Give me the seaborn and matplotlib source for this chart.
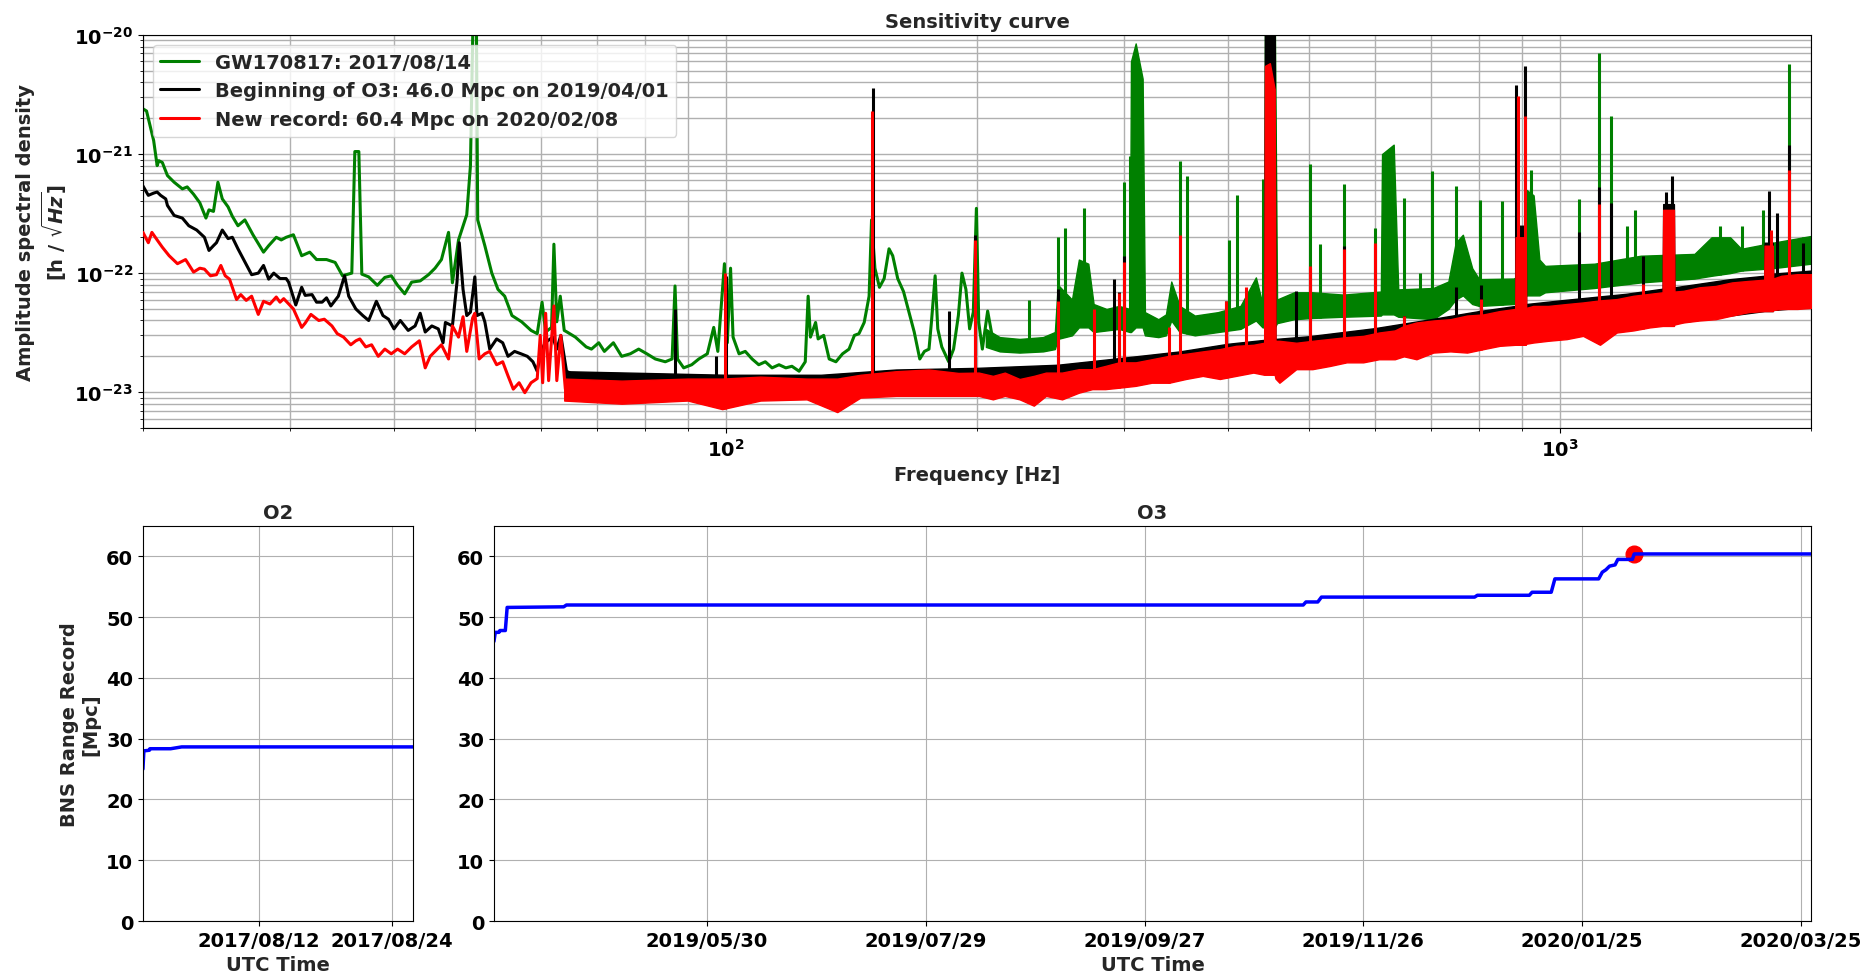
# Virgo sensitivity curves and BNS range record

import numpy as np
import pandas as pd
import matplotlib
matplotlib.use("Agg")
import matplotlib.pyplot as plt
import matplotlib.dates as mdates
import seaborn as sns

# ---- spectra: traced line points (Hz, strain/sqrt(Hz)) ----
GREEN_LINE = [
    (20.0, 2.4e-21), (20.2, 2.3e-21), (20.6, 1.3e-21), (20.8, 8.0e-22), (20.9, 8.8e-22),
    (21.1, 8.5e-22), (21.4, 6.6e-22), (21.8, 5.8e-22), (22.3, 5.1e-22), (22.6, 5.3e-22),
    (23.0, 4.6e-22), (23.4, 3.9e-22), (23.8, 2.9e-22), (24.0, 3.4e-22), (24.3, 3.3e-22),
    (24.6, 5.8e-22), (24.9, 4.2e-22), (25.3, 3.6e-22), (25.6, 3.0e-22), (26.0, 2.5e-22),
    (26.5, 2.8e-22), (27.1, 2.1e-22), (27.9, 1.5e-22), (28.3, 1.7e-22), (28.9, 2.0e-22),
    (29.3, 1.9e-22), (29.7, 2.0e-22), (30.3, 2.1e-22), (31.0, 1.4e-22), (31.7, 1.5e-22),
    (32.3, 1.3e-22), (33.2, 1.3e-22), (34.0, 1.23e-22), (34.7, 9.5e-23), (35.6, 1.0e-22),
    (35.9, 1.05e-21), (36.3, 1.05e-21), (36.6, 9.8e-23), (37.3, 9.3e-23), (38.2, 7.9e-23),
    (39.0, 9.2e-23), (39.7, 9.5e-23), (40.4, 7.9e-23), (41.2, 6.7e-23), (42.0, 8.4e-23),
    (43.0, 8.6e-23), (44.0, 9.7e-23), (44.8, 1.1e-22), (45.6, 1.3e-22), (46.5, 2.2e-22),
    (47.0, 8.3e-23), (47.8, 1.9e-22), (48.9, 3.1e-22), (49.4, 8.0e-22), (49.8, 2e-20),
    (50.2, 2e-20), (50.4, 2.8e-22), (51.4, 1.7e-22), (52.4, 1.0e-22), (53.3, 7.3e-23),
    (54.3, 6.4e-23), (55.4, 4.4e-23), (56.9, 3.9e-23), (58.4, 3.3e-23), (59.4, 3.1e-23),
    (60.2, 5.7e-23), (60.8, 3.2e-23), (61.8, 3.5e-23), (62.2, 1.75e-22), (62.7, 3.9e-23),
    (63.3, 6.4e-23), (64.0, 3.3e-23), (64.5, 3.2e-23), (66.0, 2.9e-23), (68.0, 2.4e-23),
    (69.0, 2.3e-23), (70.4, 2.6e-23), (71.5, 2.2e-23), (73.3, 2.6e-23), (75.0, 2.0e-23),
    (76.8, 2.1e-23), (78.6, 2.3e-23), (80.4, 2.1e-23), (82.3, 1.9e-23), (84.6, 1.8e-23),
    (86.2, 1.9e-23), (86.9, 7.8e-23), (87.5, 1.9e-23), (89.0, 1.6e-23), (91.0, 1.7e-23),
    (92.8, 1.9e-23), (95.0, 2.1e-23), (96.7, 3.5e-23), (97.8, 2.2e-23), (99.6, 1.2e-22),
    (100.4, 2.6e-23), (101.3, 1.1e-22), (102.0, 2.9e-23), (103.7, 2.1e-23), (105.5, 2.2e-23),
    (107.5, 1.9e-23), (109.5, 1.7e-23), (111.5, 1.8e-23), (113.6, 1.6e-23), (115.8, 1.7e-23),
    (118.0, 1.6e-23), (120.0, 1.65e-23), (122.4, 1.5e-23), (124.5, 1.8e-23), (125.5, 6.4e-23),
    (126.3, 2.9e-23), (128.1, 3.85e-23), (129.0, 2.8e-23), (131.0, 3.0e-23), (133.0, 1.9e-23),
    (135.5, 1.8e-23), (138.0, 2.1e-23), (140.5, 2.3e-23), (142.6, 3.0e-23), (144.4, 3.1e-23),
    (146.5, 3.85e-23), (148.5, 6.4e-23), (149.5, 2.8e-22), (150.9, 1.1e-22), (152.8, 7.6e-23),
    (154.8, 9.0e-23), (156.9, 1.6e-22), (158.5, 1.4e-22), (160.7, 9.0e-23), (163.3, 7.0e-23),
    (165.8, 4.7e-23), (168.2, 3.2e-23), (170.8, 1.9e-23), (173.0, 2.2e-23), (175.2, 2.3e-23),
    (176.4, 3.9e-23), (178.2, 9.5e-23), (179.5, 3.4e-23), (181.5, 2.4e-23), (185.0, 1.8e-23),
    (187.5, 2.3e-23), (190.0, 4.4e-23), (191.9, 1.0e-22), (194.0, 7.3e-23), (196.0, 3.4e-23),
    (198.0, 4.7e-23), (199.7, 3.5e-22), (201.0, 3.85e-23), (203.0, 2.3e-23), (206.0, 4.8e-23),
    (208.5, 3.0e-23), (213.0, 2.3e-23),
]

BLACK_LINE = [
    (20.0, 5.4e-22), (20.3, 4.5e-22), (20.6, 4.7e-22), (20.8, 4.8e-22), (21.0, 4.5e-22),
    (21.3, 4.2e-22), (21.4, 3.7e-22), (21.8, 3.05e-22), (22.3, 2.9e-22), (22.7, 2.5e-22),
    (23.2, 2.3e-22), (23.7, 2.0e-22), (24.0, 1.55e-22), (24.3, 1.7e-22), (24.5, 1.8e-22),
    (24.9, 2.3e-22), (25.3, 1.95e-22), (25.6, 2.0e-22), (26.0, 1.6e-22), (27.0, 9.7e-23),
    (27.5, 1.0e-22), (27.9, 1.16e-22), (28.3, 8.9e-23), (28.7, 1.0e-22), (29.2, 9.0e-23),
    (29.7, 9.0e-23), (29.9, 8.4e-23), (30.5, 5.4e-23), (31.0, 7.6e-23), (31.3, 6.5e-23),
    (31.9, 6.6e-23), (32.3, 5.7e-23), (32.8, 5.7e-23), (33.2, 6.2e-23), (33.6, 5.3e-23),
    (34.3, 6.4e-23), (34.9, 9.5e-23), (35.3, 6.4e-23), (36.0, 5.0e-23), (36.7, 4.4e-23),
    (37.3, 4.0e-23), (38.1, 5.8e-23), (38.8, 4.4e-23), (39.4, 4.1e-23), (40.0, 3.4e-23),
    (40.7, 4.0e-23), (41.6, 3.3e-23), (42.4, 3.6e-23), (43.0, 4.6e-23), (43.6, 3.2e-23),
    (44.4, 3.6e-23), (45.2, 3.4e-23), (45.8, 2.6e-23), (46.1, 3.85e-23), (47.0, 3.6e-23),
    (47.6, 8.4e-23), (47.9, 1.8e-22), (48.4, 7.3e-23), (48.9, 4.4e-23), (49.4, 4.7e-23),
    (50.0, 9.3e-23), (50.3, 4.4e-23), (51.0, 4.6e-23), (51.4, 3.9e-23), (52.1, 2.3e-23),
    (53.1, 2.8e-23), (54.0, 2.6e-23), (54.8, 2.0e-23), (55.8, 2.2e-23), (56.8, 2.1e-23),
    (57.8, 2.0e-23), (58.7, 1.8e-23), (59.4, 1.5e-23), (59.9, 2.1e-23), (60.7, 2.6e-23),
    (62.0, 2.9e-23), (62.7, 2.3e-23), (63.4, 3.0e-23), (64.4, 1.5e-23), (65.0, 1.45e-23),
]

RED_LINE = [
    (20.0, 2.2e-22), (20.3, 1.8e-22), (20.5, 2.2e-22), (20.8, 1.9e-22), (21.1, 1.65e-22),
    (21.5, 1.4e-22), (22.0, 1.2e-22), (22.5, 1.3e-22), (23.0, 1.02e-22), (23.4, 1.1e-22),
    (23.7, 1.08e-22), (24.1, 9.5e-23), (24.5, 9.7e-23), (24.8, 1.16e-22), (25.1, 9.5e-23),
    (25.4, 8.9e-23), (25.9, 6.0e-23), (26.2, 6.6e-23), (26.6, 5.9e-23), (27.0, 6.4e-23),
    (27.5, 4.5e-23), (27.9, 5.8e-23), (28.4, 5.5e-23), (28.9, 6.3e-23), (29.2, 5.7e-23),
    (29.5, 6.1e-23), (30.3, 5.0e-23), (31.0, 3.5e-23), (31.3, 3.8e-23), (31.8, 4.5e-23),
    (32.5, 4.0e-23), (33.0, 4.1e-23), (33.7, 3.6e-23), (34.2, 3.1e-23), (34.8, 2.9e-23),
    (35.5, 2.5e-23), (36.0, 2.7e-23), (36.4, 2.8e-23), (37.0, 2.4e-23), (37.6, 2.5e-23),
    (38.3, 2.0e-23), (39.0, 2.3e-23), (39.7, 2.1e-23), (40.4, 2.3e-23), (41.2, 2.1e-23),
    (42.0, 2.4e-23), (42.9, 2.7e-23), (43.6, 1.6e-23), (44.2, 2.0e-23), (44.8, 2.2e-23),
    (45.6, 2.5e-23), (46.5, 1.9e-23), (47.0, 3.6e-23), (47.8, 2.9e-23), (48.4, 4.3e-23),
    (48.9, 2.2e-23), (49.7, 4.2e-23), (50.0, 4.6e-23), (50.6, 1.9e-23), (51.4, 2.1e-23),
    (52.1, 2.2e-23), (53.1, 1.7e-23), (54.0, 1.8e-23), (54.8, 1.37e-23), (55.6, 1.06e-23),
    (56.5, 1.2e-23), (57.4, 9.9e-24), (58.4, 1.2e-23), (59.4, 1.3e-23), (59.9, 3.0e-23),
    (60.3, 1.2e-23), (60.8, 4.6e-23), (61.3, 1.25e-23), (62.2, 5.3e-23), (62.7, 1.25e-23),
    (63.4, 3.0e-23), (64.2, 1.06e-23), (65.0, 1.2e-23),
]

# ---- dense noise floor: (Hz, lower edge, upper edge) ----
GREEN_BAND = [
    (205, 2.4e-23, 3.4e-23), (213, 2.2e-23, 2.9e-23), (225, 2.15e-23, 2.8e-23),
    (240, 2.2e-23, 2.9e-23), (248, 2.3e-23, 3.2e-23), (250, 2.8e-23, 8.0e-23),
    (260, 3.0e-23, 6.0e-23), (265, 3.5e-23, 1.3e-22), (272, 3.5e-23, 1.2e-22),
    (276, 3.2e-23, 5.5e-23), (286, 3.3e-23, 5.0e-23), (296, 3.4e-23, 5.3e-23),
    (305, 3.2e-23, 5.0e-23), (306, 3.2e-23, 6.0e-21), (310, 3.5e-23, 8.5e-21),
    (316, 3.5e-23, 4.3e-21), (318, 3.0e-23, 4.7e-23), (330, 2.9e-23, 4.1e-23),
    (337, 3.0e-23, 4.5e-23), (342, 4.0e-23, 8.5e-23), (350, 3.2e-23, 5.3e-23),
    (365, 3.0e-23, 4.4e-23), (389, 3.2e-23, 4.7e-23), (414, 3.4e-23, 5.3e-23),
    (432, 4.0e-23, 9.2e-23), (440, 3.5e-23, 5.5e-23), (442, 3.5e-23, 5.5e-23),
    (443, 3.5e-23, 2e-20), (455, 3.5e-23, 2e-20), (458, 3.8e-23, 6.0e-23),
    (480, 4.1e-23, 6.9e-23), (505, 4.2e-23, 6.9e-23), (550, 4.3e-23, 6.6e-23),
    (610, 4.4e-23, 7.0e-23), (612, 4.5e-23, 1.0e-21), (632, 4.5e-23, 1.2e-21),
    (640, 4.3e-23, 7.3e-23), (705, 4.1e-23, 7.5e-23), (735, 5.0e-23, 8.5e-23),
    (750, 6.0e-23, 1.8e-22), (765, 6.5e-23, 2.1e-22), (785, 5.5e-23, 1.1e-22),
    (800, 5.3e-23, 8.9e-23), (880, 5.5e-23, 9.0e-23), (905, 6.0e-23, 1.0e-22),
    (912, 6.5e-23, 5.0e-22), (930, 6.5e-23, 4.5e-22), (945, 6.5e-23, 1.3e-22),
    (960, 6.9e-23, 1.15e-22), (1100, 7.5e-23, 1.2e-22), (1250, 8.35e-23, 1.4e-22),
    (1450, 9.0e-23, 1.45e-22), (1520, 9.5e-23, 2.0e-22), (1600, 1.0e-22, 2.0e-22),
    (1650, 1.05e-22, 1.6e-22), (1800, 1.1e-22, 1.8e-22), (2000, 1.2e-22, 2.05e-22),
]

BLACK_BAND = [
    (64, 1.1e-23, 1.5e-23), (80, 1.05e-23, 1.45e-23), (100, 1.05e-23, 1.4e-23),
    (130, 1.05e-23, 1.4e-23), (160, 1.1e-23, 1.55e-23), (200, 1.15e-23, 1.6e-23),
    (250, 1.2e-23, 1.7e-23), (300, 1.35e-23, 1.95e-23), (350, 1.45e-23, 2.2e-23),
    (400, 1.55e-23, 2.55e-23), (442, 1.65e-23, 2.75e-23), (443, 1.65e-23, 2e-20),
    (455, 1.65e-23, 2e-20), (456, 1.65e-23, 2.8e-23), (500, 1.75e-23, 2.95e-23),
    (600, 2.0e-23, 3.45e-23), (700, 2.2e-23, 4.1e-23), (800, 2.5e-23, 4.8e-23),
    (884, 2.7e-23, 5.3e-23), (885, 2.7e-23, 2.5e-22), (910, 2.7e-23, 2.5e-22),
    (911, 2.7e-23, 5.5e-23), (1000, 3.0e-23, 5.9e-23), (1200, 3.4e-23, 6.7e-23),
    (1328, 3.7e-23, 7.4e-23), (1330, 3.7e-23, 3.8e-22), (1370, 3.7e-23, 3.8e-22),
    (1372, 3.8e-23, 7.6e-23), (1600, 4.4e-23, 8.9e-23), (1758, 4.8e-23, 9.5e-23),
    (1760, 4.8e-23, 1.8e-22), (1800, 4.8e-23, 1.8e-22), (1802, 4.9e-23, 9.9e-23),
    (2000, 5.2e-23, 1.05e-22),
]

RED_BAND = [
    (64, 8.5e-24, 1.3e-23), (75, 8.0e-24, 1.25e-23), (90, 8.5e-24, 1.3e-23),
    (99, 7.2e-24, 1.3e-23), (110, 8.5e-24, 1.35e-23), (125, 8.7e-24, 1.3e-23),
    (136, 6.8e-24, 1.3e-23), (145, 9.0e-24, 1.4e-23), (160, 9.3e-24, 1.5e-23),
    (175, 9.3e-24, 1.55e-23), (190, 9.3e-24, 1.45e-23), (201, 9.3e-24, 1.46e-23),
    (209, 8.7e-24, 1.37e-23), (216, 9.3e-24, 1.46e-23), (225, 8.7e-24, 1.29e-23),
    (234, 7.7e-24, 1.37e-23), (242, 9.3e-24, 1.46e-23), (253, 8.7e-24, 1.46e-23),
    (265, 9.9e-24, 1.56e-23), (275, 1.06e-23, 1.56e-23), (285, 1.06e-23, 1.66e-23),
    (296, 1.09e-23, 1.78e-23), (310, 1.13e-23, 1.78e-23), (324, 1.2e-23, 1.89e-23),
    (340, 1.2e-23, 2.02e-23), (356, 1.29e-23, 2.1e-23), (373, 1.37e-23, 2.2e-23),
    (391, 1.29e-23, 2.3e-23), (409, 1.37e-23, 2.45e-23), (429, 1.46e-23, 2.5e-23),
    (442, 1.4e-23, 2.6e-23), (443, 1.4e-23, 5.5e-21), (449, 1.4e-23, 5.8e-21),
    (455, 1.4e-23, 3.5e-21), (456, 1.3e-23, 2.7e-23), (461, 1.2e-23, 2.7e-23),
    (483, 1.56e-23, 2.6e-23), (505, 1.56e-23, 2.7e-23), (530, 1.66e-23, 2.8e-23),
    (555, 1.78e-23, 2.9e-23), (581, 1.78e-23, 2.97e-23), (607, 1.89e-23, 3.17e-23),
    (634, 1.89e-23, 3.3e-23), (650, 2.0e-23, 3.6e-23), (673, 1.89e-23, 3.85e-23),
    (705, 2.15e-23, 4.0e-23), (739, 2.2e-23, 4.1e-23), (774, 2.15e-23, 4.4e-23),
    (810, 2.3e-23, 4.5e-23), (847, 2.45e-23, 4.8e-23), (884, 2.5e-23, 5.0e-23),
    (885, 2.5e-23, 2.0e-22), (910, 2.5e-23, 2.0e-22), (911, 2.55e-23, 5.1e-23),
    (929, 2.61e-23, 5.3e-23), (968, 2.7e-23, 5.3e-23), (1019, 2.79e-23, 5.5e-23),
    (1066, 2.97e-23, 5.67e-23), (1117, 2.5e-23, 5.9e-23), (1170, 3.17e-23, 6.05e-23),
    (1225, 3.3e-23, 6.45e-23), (1282, 3.5e-23, 6.7e-23), (1328, 3.6e-23, 6.9e-23),
    (1330, 3.6e-23, 3.4e-22), (1370, 3.6e-23, 3.4e-22), (1372, 3.7e-23, 7.0e-23),
    (1406, 3.85e-23, 7.1e-23), (1470, 4.0e-23, 7.6e-23), (1537, 4.1e-23, 7.8e-23),
    (1608, 4.4e-23, 8.35e-23), (1683, 4.7e-23, 8.6e-23), (1758, 4.8e-23, 8.8e-23),
    (1760, 4.8e-23, 1.7e-22), (1800, 4.8e-23, 1.7e-22), (1802, 4.9e-23, 9.0e-23),
    (1843, 5.0e-23, 9.5e-23), (1926, 5.0e-23, 9.8e-23), (2000, 5.1e-23, 9.8e-23),
]

# ---- narrow spectral lines (Hz, peak height) ----
green_peak_freq = [231, 250, 255, 269, 300.4, 305, 350, 357, 401, 410, 441, 501, 515, 551,
                   601, 651, 679, 703, 751, 801, 852, 924, 1054, 1114, 1153, 1202, 1230,
                   1556, 1655, 1754, 1884, 1959]
green_peak_asd = [5.9e-23, 2.0e-22, 2.4e-22, 3.5e-22, 5.8e-22, 9.7e-22, 8.8e-22, 6.6e-22,
                  1.9e-22, 4.5e-22, 6.2e-22, 8.2e-22, 1.75e-22, 5.6e-22, 2.4e-22, 4.3e-22,
                  1.0e-22, 7.2e-22, 5.4e-22, 4.1e-22, 4.0e-22, 7.3e-22, 4.2e-22, 7.1e-21,
                  2.1e-21, 2.5e-22, 3.4e-22, 2.5e-22, 2.5e-22, 3.4e-22, 5.7e-21, 2.0e-22]

black_peak_freq = [86.9, 97.2, 100.0, 150.1, 184.9, 199.1, 250, 291.7, 296, 300.4, 398, 483,
                   501, 551, 601, 651, 751, 805, 887, 908, 1054, 1114, 1153, 1259, 1342,
                   1361, 1783, 1819, 1884, 1959]
black_peak_asd = [5.0e-23, 2.0e-23, 9.5e-23, 3.6e-21, 4.8e-23, 2.1e-22, 7.3e-23, 8.9e-23,
                  7.0e-23, 1.4e-22, 5.8e-23, 7.1e-23, 1.1e-22, 1.7e-22, 1.75e-22, 4.4e-23,
                  7.7e-23, 7.9e-23, 3.8e-21, 5.5e-21, 2.2e-22, 5.3e-22, 3.9e-22, 1.4e-22,
                  4.8e-22, 6.6e-22, 4.9e-22, 3.2e-22, 1.2e-21, 1.8e-22]

red_peak_freq = [99.7, 149.7, 199.1, 250, 276, 296, 300.4, 340, 350, 398, 420, 501, 551,
                 601, 651, 805, 890, 908, 1114, 1259, 1770, 1790, 1884]
red_peak_asd = [1.0e-22, 2.3e-21, 1.9e-22, 5.8e-23, 5.0e-23, 6.8e-23, 1.25e-22, 3.5e-23,
                2.1e-22, 5.8e-23, 7.7e-23, 1.15e-22, 1.6e-22, 1.8e-22, 4.4e-23, 6.1e-23,
                3.1e-21, 2.1e-21, 3.8e-22, 8.1e-23, 1.6e-22, 2.3e-22, 7.4e-22]

# ---- BNS range record ----
o2_time = ["2017-08-01 13:00", "2017-08-01 15:00", "2017-08-02 03:00", "2017-08-02 04:00",
           "2017-08-04 01:00", "2017-08-05 01:00", "2017-08-25 22:00"]
o2_range = [25.0, 28.0, 28.1, 28.35, 28.35, 28.65, 28.65]

o3_time = ["2019-04-01 15:00", "2019-04-02 00:00", "2019-04-03 00:00", "2019-04-03 06:00",
           "2019-04-04 18:00", "2019-04-05 06:00", "2019-04-20 18:00", "2019-04-21 12:00",
           "2019-11-09 12:00", "2019-11-10 06:00", "2019-11-13 12:00", "2019-11-14 12:00",
           "2019-12-26 12:00", "2019-12-27 06:00", "2020-01-10 12:00", "2020-01-11 06:00",
           "2020-01-16 12:00", "2020-01-17 12:00", "2020-01-29 12:00", "2020-01-30 12:00",
           "2020-01-31 12:00", "2020-02-01 12:00", "2020-02-03 00:00", "2020-02-03 18:00",
           "2020-02-07 18:00", "2020-02-08 06:00", "2020-03-27 17:00"]
o3_range = [46.0, 47.5, 47.5, 47.8, 47.8, 51.6, 51.7, 52.0, 52.0, 52.5, 52.5, 53.3, 53.3,
            53.6, 53.6, 54.1, 54.1, 56.3, 56.3, 57.4, 57.8, 58.4, 58.6, 59.5, 59.5, 60.4, 60.4]

record_time = "2020-02-08 06:00"
record_range = 60.4

o2_ticks = ["2017-08-12", "2017-08-24"]
o3_ticks = ["2019-05-30", "2019-07-29", "2019-09-27", "2019-11-26", "2020-01-25", "2020-03-25"]

legend_labels = ["GW170817: 2017/08/14",
                 "Beginning of O3: 46.0 Mpc on 2019/04/01",
                 "New record: 60.4 Mpc on 2020/02/08"]

sns.set_style("ticks", {"axes.grid": True, "grid.color": "#b0b0b0"})
plt.rcParams.update({
    "font.family": ["DejaVu Sans"],
    "font.weight": "bold",
    "font.size": 14,
    "axes.titleweight": "bold",
    "axes.labelweight": "bold",
    "axes.titlesize": 14,
    "axes.labelsize": 14,
    "xtick.labelsize": 14,
    "ytick.labelsize": 14,
    "legend.fontsize": 14,
    "mathtext.default": "bf",
    "axes.edgecolor": "black",
    "xtick.color": "black",
    "ytick.color": "black",
})


def draw_curve(ax, line, band, pk_f, pk_a, color, label, z):
    freq, asd = map(list, zip(*line))
    sns.lineplot(x=freq, y=asd, ax=ax, color=color, lw=2.2, label=label,
                 sort=False, estimator=None, zorder=z)
    bf, blo, bhi = map(np.array, zip(*band))
    ax.fill_between(bf, blo, bhi, color=color, lw=1, zorder=z)
    base = 10 ** np.interp(np.log10(pk_f), np.log10(bf), np.log10(blo))
    ax.vlines(pk_f, base, pk_a, color=color, lw=2.2, zorder=z)


fig = plt.figure(figsize=(18.66, 9.79), dpi=100)

# sensitivity curves
ax = fig.add_axes([0.0766, 0.5618, 0.8939, 0.4014])
ax.set_xscale("log")
ax.set_yscale("log")
draw_curve(ax, GREEN_LINE, GREEN_BAND, green_peak_freq, green_peak_asd, "green", legend_labels[0], 2)
draw_curve(ax, BLACK_LINE, BLACK_BAND, black_peak_freq, black_peak_asd, "black", legend_labels[1], 3)
draw_curve(ax, RED_LINE, RED_BAND, red_peak_freq, red_peak_asd, "red", legend_labels[2], 4)
ax.set_xlim(20, 2000)
ax.set_ylim(5e-24, 1e-20)
ax.grid(True, which="both", color="#b0b0b0", lw=1)
ax.set_title("Sensitivity curve")
ax.set_xlabel("Frequency [Hz]")
ax.set_ylabel("Amplitude spectral density\n" + r"[h / $\sqrt{\mathit{Hz}}$]")
ax.legend(loc="upper left", frameon=True)

# BNS range, O2
ax2 = fig.add_axes([0.0766, 0.0582, 0.1447, 0.4035])
t2 = pd.to_datetime(o2_time)
sns.lineplot(x=t2, y=o2_range, ax=ax2, color="blue", lw=2.5, sort=False, estimator=None)
ax2.set_xlim(t2[0], t2[-1])
ax2.set_xticks(pd.to_datetime(o2_ticks))
ax2.xaxis.set_major_formatter(mdates.DateFormatter("%Y/%m/%d"))
ax2.set_ylim(0, 65)
ax2.set_yticks(range(0, 61, 10))
ax2.set_title("O2")
ax2.set_xlabel("UTC Time")
ax2.set_ylabel("BNS Range Record\n[Mpc]")

# BNS range, O3
ax3 = fig.add_axes([0.2647, 0.0582, 0.7058, 0.4035])
t3 = pd.to_datetime(o3_time)
ax3.plot(pd.to_datetime([record_time]), [record_range], "o", color="red", ms=12, zorder=1.5)
sns.lineplot(x=t3, y=o3_range, ax=ax3, color="blue", lw=2.5, sort=False, estimator=None, zorder=2)
ax3.set_xlim(t3[0], t3[-1])
ax3.set_xticks(pd.to_datetime(o3_ticks))
ax3.xaxis.set_major_formatter(mdates.DateFormatter("%Y/%m/%d"))
ax3.set_ylim(0, 65)
ax3.set_yticks(range(0, 61, 10))
ax3.set_title("O3")
ax3.set_xlabel("UTC Time")
ax3.set_ylabel("")

fig.savefig("out.png", dpi=100)
